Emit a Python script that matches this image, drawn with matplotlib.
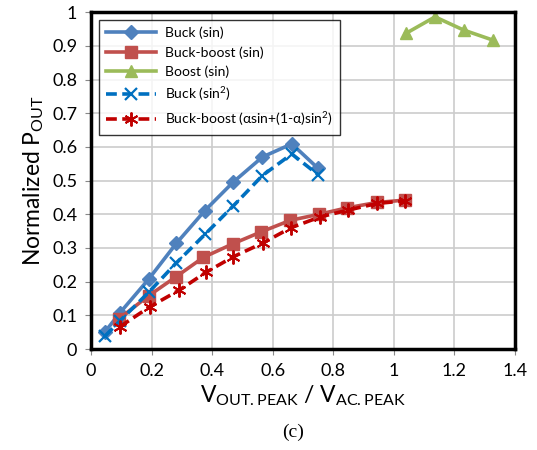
import matplotlib
matplotlib.use('Agg')
import matplotlib.pyplot as plt
from matplotlib.ticker import FuncFormatter

plt.rcParams['font.family'] = ['Lato', 'DejaVu Sans']

# Buck (sin)
buck_x = [0.047, 0.096, 0.19, 0.282, 0.376, 0.469, 0.566, 0.663, 0.749]
buck_y = [0.052, 0.108, 0.207, 0.314, 0.411, 0.495, 0.570, 0.609, 0.537]

# Buck-boost (sin)
bb_x = [0.093, 0.19, 0.28, 0.371, 0.47, 0.56, 0.658, 0.753, 0.845, 0.944, 1.036]
bb_y = [0.090, 0.158, 0.214, 0.272, 0.313, 0.347, 0.382, 0.400, 0.419, 0.435, 0.442]

# Boost (sin)
boost_x = [1.04, 1.136, 1.23, 1.327]
boost_y = [0.937, 0.986, 0.947, 0.917]

# Buck (sin^2)
bucksq_x = [0.046, 0.096, 0.19, 0.28, 0.376, 0.469, 0.566, 0.663, 0.749]
bucksq_y = [0.038, 0.084, 0.168, 0.254, 0.340, 0.424, 0.515, 0.579, 0.518]

# Buck-boost (alpha sin + (1-alpha) sin^2)
bba_x = [0.095, 0.195, 0.29, 0.38, 0.47, 0.568, 0.66, 0.756, 0.847, 0.944, 1.036]
bba_y = [0.066, 0.126, 0.174, 0.228, 0.274, 0.315, 0.360, 0.392, 0.412, 0.432, 0.440]

xticks = [0, 0.2, 0.4, 0.6, 0.8, 1.0, 1.2, 1.4]
yticks = [0, 0.1, 0.2, 0.3, 0.4, 0.5, 0.6, 0.7, 0.8, 0.9, 1.0]

fig = plt.figure(figsize=(5.37, 4.5), dpi=100)
ax = fig.add_axes([0.1695, 0.2244, 0.7895, 0.7486])

ax.plot(buck_x, buck_y, color='#4F81BD', lw=2.6, marker='D', ms=7, label='Buck (sin)')
ax.plot(bb_x, bb_y, color='#C0504D', lw=2.6, marker='s', ms=8, label='Buck-boost (sin)')
ax.plot(boost_x, boost_y, color='#9BBB59', lw=2.6, marker='^', ms=9, label='Boost (sin)')
ax.plot(bucksq_x, bucksq_y, color='#0070C0', lw=2.6, ls=(0, (3, 1.5)), marker='x', ms=9, mew=1.6,
        label='Buck (sin$\\mathregular{^2}$)')
ax.plot(bba_x, bba_y, color='#C00000', lw=2.6, ls=(0, (3, 1.5)), marker=(6, 2, 0), ms=10, mew=1.4,
        label='Buck-boost (αsin+(1-α)sin$\\mathregular{^2}$)')

ax.set_xlim(0, 1.4)
ax.set_ylim(0, 1)
ax.set_xticks(xticks)
ax.set_yticks(yticks)
ax.xaxis.set_major_formatter(FuncFormatter(lambda v, p: '%g' % round(v, 2)))
ax.yaxis.set_major_formatter(FuncFormatter(lambda v, p: '%g' % round(v, 2)))
ax.tick_params(labelsize=13, length=4, color='#888888', pad=6)
ax.grid(True, color='#CCCCCC', lw=1.2)
ax.set_axisbelow(True)
for s in ax.spines.values():
    s.set_linewidth(2.5)
    s.set_color('black')

ax.set_ylabel('Normalized P$\\mathregular{_{OUT}}$', fontsize=16.5, labelpad=4)
ax.set_xlabel('V$\\mathregular{_{OUT{.}PEAK}}$ / V$\\mathregular{_{AC{.}PEAK}}$', fontsize=16.5, labelpad=3)

leg = ax.legend(loc='upper left', bbox_to_anchor=(0.008, 0.99), fontsize=10, handlelength=3.6,
                handletextpad=0.7, frameon=True, fancybox=False, edgecolor='black',
                borderpad=0.5, labelspacing=0.5, borderaxespad=0.3)
leg.get_frame().set_linewidth(1.0)

fig.text(0.545, 0.03, '(c)', family='Liberation Serif', fontsize=14, ha='center')

plt.savefig('out.png', dpi=100)
